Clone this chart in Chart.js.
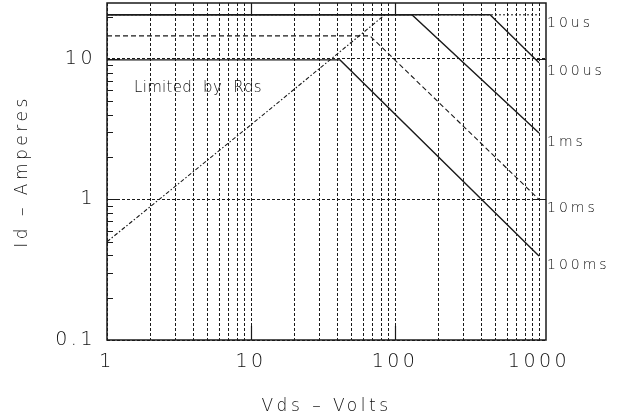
<!DOCTYPE html>
<html>
<head>
<meta charset="utf-8">
<script src="https://cdn.jsdelivr.net/npm/chart.js@4/dist/chart.umd.min.js"></script>
<style>
  html, body { margin: 0; padding: 0; background: #fff; }
  #wrap { width: 617px; height: 418px; position: relative; }
</style>
</head>
<body>
<div id="wrap"><canvas id="soa"></canvas></div>
<script>
// Safe operating area: drain current Id (A) against drain-source voltage Vds (V)
const vds10us = [1, 1000];
const id10us = [20.6, 20.6];
const vds100us = [1, 457, 1000];
const id100us = [20.6, 20.6, 9.4];
const vds1ms = [1, 131, 1000];
const id1ms = [20.6, 20.6, 2.97];
const vds10ms = [1, 67, 1000];
const id10ms = [14.6, 14.6, 1.0];
const vds100ms = [1, 41.5, 1000];
const id100ms = [9.84, 9.84, 0.396];
const vdsRds = [1, 10, 85];
const idRds = [0.5, 3.4, 20.6];
const pulseLabels = ['10us', '100us', '1ms', '10ms', '100ms'];

// Axis ticks
const xTickValues = [1, 2, 3, 4, 5, 6, 7, 8, 9, 10, 20, 30, 40, 50, 60, 70, 80, 90,
  100, 200, 300, 400, 500, 600, 700, 800, 900, 1000];
const xLabelValues = [1, 10, 100, 1000];
const yGridValues = [0.1, 1, 10];
const yMinorValues = [0.2, 0.3, 0.4, 0.5, 0.6, 0.7, 0.8, 0.9, 2, 3, 4, 5, 6, 7, 8, 9, 20];
const yMajorValues = [1, 10];
const xMajorValues = [10, 100];

// "Limited by Rds" note anchor, in data units
const noteText = 'Limited by Rds';
const noteVds = 1.54;
const noteId = 6.25;

const pts = (xs, ys) => xs.map((x, i) => ({ x, y: ys[i] }));
const INK = '#1a1a1a';
const TEXT = '#111';
const FONT = "'DejaVu Sans', 'Liberation Sans', sans-serif";

const base = { borderColor: INK, borderWidth: 1.4, pointRadius: 0, fill: false, tension: 0 };
const datasets = [
  { ...base, label: pulseLabels[0], data: pts(vds10us, id10us), borderDash: [2, 2], borderWidth: 1, order: 5 },
  { ...base, label: pulseLabels[1], data: pts(vds100us, id100us), order: 1 },
  { ...base, label: pulseLabels[2], data: pts(vds1ms, id1ms), order: 1 },
  { ...base, label: pulseLabels[3], data: pts(vds10ms, id10ms), borderDash: [5, 3], borderWidth: 1.1, order: 2 },
  { ...base, label: pulseLabels[4], data: pts(vds100ms, id100ms), order: 1 },
  { ...base, label: 'Rds', data: pts(vdsRds, idRds), borderDash: [4, 2, 1.5, 2], borderWidth: 1.1, order: 3 }
];

const soaExtras = {
  id: 'soaExtras',
  beforeDraw(chart) {
    chart.ctx.letterSpacing = '3.5px';
  },
  afterDraw(chart) {
    const { ctx, chartArea: a, scales: { x, y } } = chart;
    ctx.save();
    ctx.letterSpacing = '0px';
    ctx.setLineDash([]);
    ctx.strokeStyle = INK;
    ctx.lineWidth = 1.5;
    // plot frame
    ctx.strokeRect(a.left, a.top, a.right - a.left, a.bottom - a.top);

    // inward tick marks
    ctx.lineWidth = 1.2;
    ctx.beginPath();
    yMinorValues.forEach(v => {
      const py = Math.round(y.getPixelForValue(v)) + 0.5;
      ctx.moveTo(a.left, py); ctx.lineTo(a.left + 6, py);
    });
    yMajorValues.forEach(v => {
      const py = Math.round(y.getPixelForValue(v)) + 0.5;
      ctx.moveTo(a.left, py); ctx.lineTo(a.left + 13, py);
      ctx.moveTo(a.right, py); ctx.lineTo(a.right - 11, py);
    });
    xMajorValues.forEach(v => {
      const px = Math.round(x.getPixelForValue(v)) + 0.5;
      ctx.moveTo(px, a.bottom); ctx.lineTo(px, a.bottom - 14);
      ctx.moveTo(px, a.top); ctx.lineTo(px, a.top + 12);
    });
    ctx.stroke();

    // pulse-width labels beside each curve's end
    ctx.fillStyle = TEXT;
    ctx.font = '200 14px ' + FONT;
    ctx.letterSpacing = '3px';
    ctx.textAlign = 'left';
    ctx.textBaseline = 'middle';
    pulseLabels.forEach((lab, i) => {
      const meta = chart.getDatasetMeta(i);
      const last = meta.data[meta.data.length - 1];
      ctx.fillText(lab, a.right + 1, last.y + 9);
    });

    // Rds limit note
    ctx.font = '200 15px ' + FONT;
    ctx.letterSpacing = '0.3px';
    ctx.wordSpacing = '6px';
    ctx.fillText(noteText, x.getPixelForValue(noteVds), y.getPixelForValue(noteId));
    ctx.restore();
  }
};

new Chart(document.getElementById('soa'), {
  type: 'line',
  data: { datasets },
  options: {
    responsive: true,
    maintainAspectRatio: false,
    animation: false,
    events: [],
    layout: { padding: { left: 0, top: 3, right: 71, bottom: 0 } },
    plugins: { legend: { display: false }, tooltip: { enabled: false } },
    scales: {
      x: {
        type: 'logarithmic',
        min: 1,
        max: 1118,
        afterBuildTicks: s => { s.ticks = xTickValues.map(v => ({ value: v })); },
        afterFit: s => { s.height = 78; s.paddingLeft = 0; s.paddingRight = 0; },
        grid: { color: INK, lineWidth: 1, drawTicks: false },
        border: { display: false, dash: [3, 2] },
        ticks: {
          autoSkip: false,
          maxRotation: 0,
          padding: 11,
          color: TEXT,
          font: { family: FONT, size: 19, weight: 200 },
          callback: v => xLabelValues.includes(v) ? String(v) : ''
        },
        title: {
          display: true,
          text: 'Vds – Volts',
          color: TEXT,
          font: { family: FONT, size: 17, weight: 200 },
          padding: { top: 0, bottom: 1 }
        }
      },
      y: {
        type: 'logarithmic',
        min: 0.1,
        max: 25,
        afterBuildTicks: s => { s.ticks = yGridValues.map(v => ({ value: v })); },
        afterFit: s => { s.width = 107; s.paddingTop = 0; s.paddingBottom = 0; },
        grid: { color: INK, lineWidth: 1, drawTicks: false },
        border: { display: false, dash: [3, 2] },
        ticks: {
          padding: 11,
          color: TEXT,
          font: { family: FONT, size: 19, weight: 200 },
          callback: v => String(v)
        },
        title: {
          display: true,
          text: 'Id – Amperes',
          color: TEXT,
          font: { family: FONT, size: 17, weight: 200 },
          padding: { top: 12, bottom: 0 }
        }
      }
    }
  },
  plugins: [soaExtras]
});
</script>
</body>
</html>
